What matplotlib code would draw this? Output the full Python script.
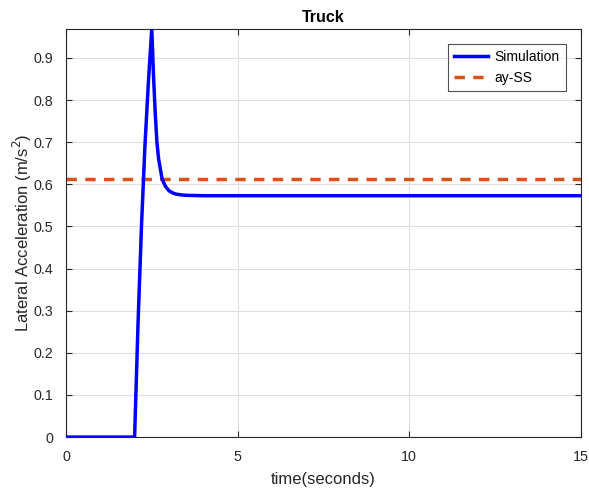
import matplotlib
matplotlib.use("Agg")
import matplotlib.pyplot as plt
import numpy as np

plt.rcParams['font.family'] = ['Liberation Sans', 'DejaVu Sans']

# Simulated lateral acceleration response (time in s, accel in m/s^2)
time_s = [0.0, 2.0, 2.1, 2.2, 2.3, 2.4, 2.5, 2.55, 2.6, 2.65, 2.7, 2.8, 2.9,
          3.0, 3.1, 3.2, 3.35, 3.5, 3.75, 4.0, 6.0, 10.0, 15.0]
ay_sim = [0.0, 0.0, 0.27, 0.50, 0.69, 0.84, 0.969, 0.86, 0.77, 0.70, 0.66,
          0.613, 0.595, 0.585, 0.580, 0.577, 0.575, 0.574, 0.5735, 0.573,
          0.573, 0.573, 0.573]

# Steady-state lateral acceleration
ay_ss = 0.613

xticks = [0, 5, 10, 15]
yticks = [0, 0.1, 0.2, 0.3, 0.4, 0.5, 0.6, 0.7, 0.8, 0.9]

fig = plt.figure(figsize=(5.89, 4.90), dpi=100)
ax = fig.add_axes([0.112, 0.108, 0.874, 0.833])

ax.plot(time_s, ay_sim, color='#0000ff', lw=2.5, label='Simulation', zorder=3)
ax.axhline(ay_ss, color='#d95319', lw=2.5, ls=(0, (3, 2.4)), label='ay-SS', zorder=2)

ax.set_xlim(0, 15)
ax.set_ylim(0, max(ay_sim))
ax.set_xticks(xticks)
ax.set_yticks(yticks)
ax.set_yticklabels([f"{v:g}" for v in yticks])
ax.grid(True, color='#dfdfdf', lw=0.8)
ax.set_axisbelow(True)
ax.tick_params(direction='in', top=True, right=True, labelsize=10.3,
               colors='#262626', length=4)
ax.tick_params(axis='x', pad=9)
ax.tick_params(axis='y', pad=9)
for s in ax.spines.values():
    s.set_color('#262626')
    s.set_linewidth(0.8)

ax.set_title('Truck', fontsize=11.5, fontweight='bold', color='black', pad=5)
ax.set_xlabel('time(seconds)', fontsize=12, color='#262626', labelpad=6)
ax.set_ylabel('Lateral Acceleration (m/s$^2$)', fontsize=12, color='#262626', labelpad=0)

leg = ax.legend(loc='upper right', bbox_to_anchor=(0.971, 0.963), borderaxespad=0,
                fontsize=10, frameon=True, fancybox=False, edgecolor='#262626',
                handlelength=2.4, handletextpad=0.5, borderpad=0.45,
                labelspacing=0.5)
leg.get_frame().set_linewidth(0.8)

fig.savefig('out.png', dpi=100, facecolor='white')
